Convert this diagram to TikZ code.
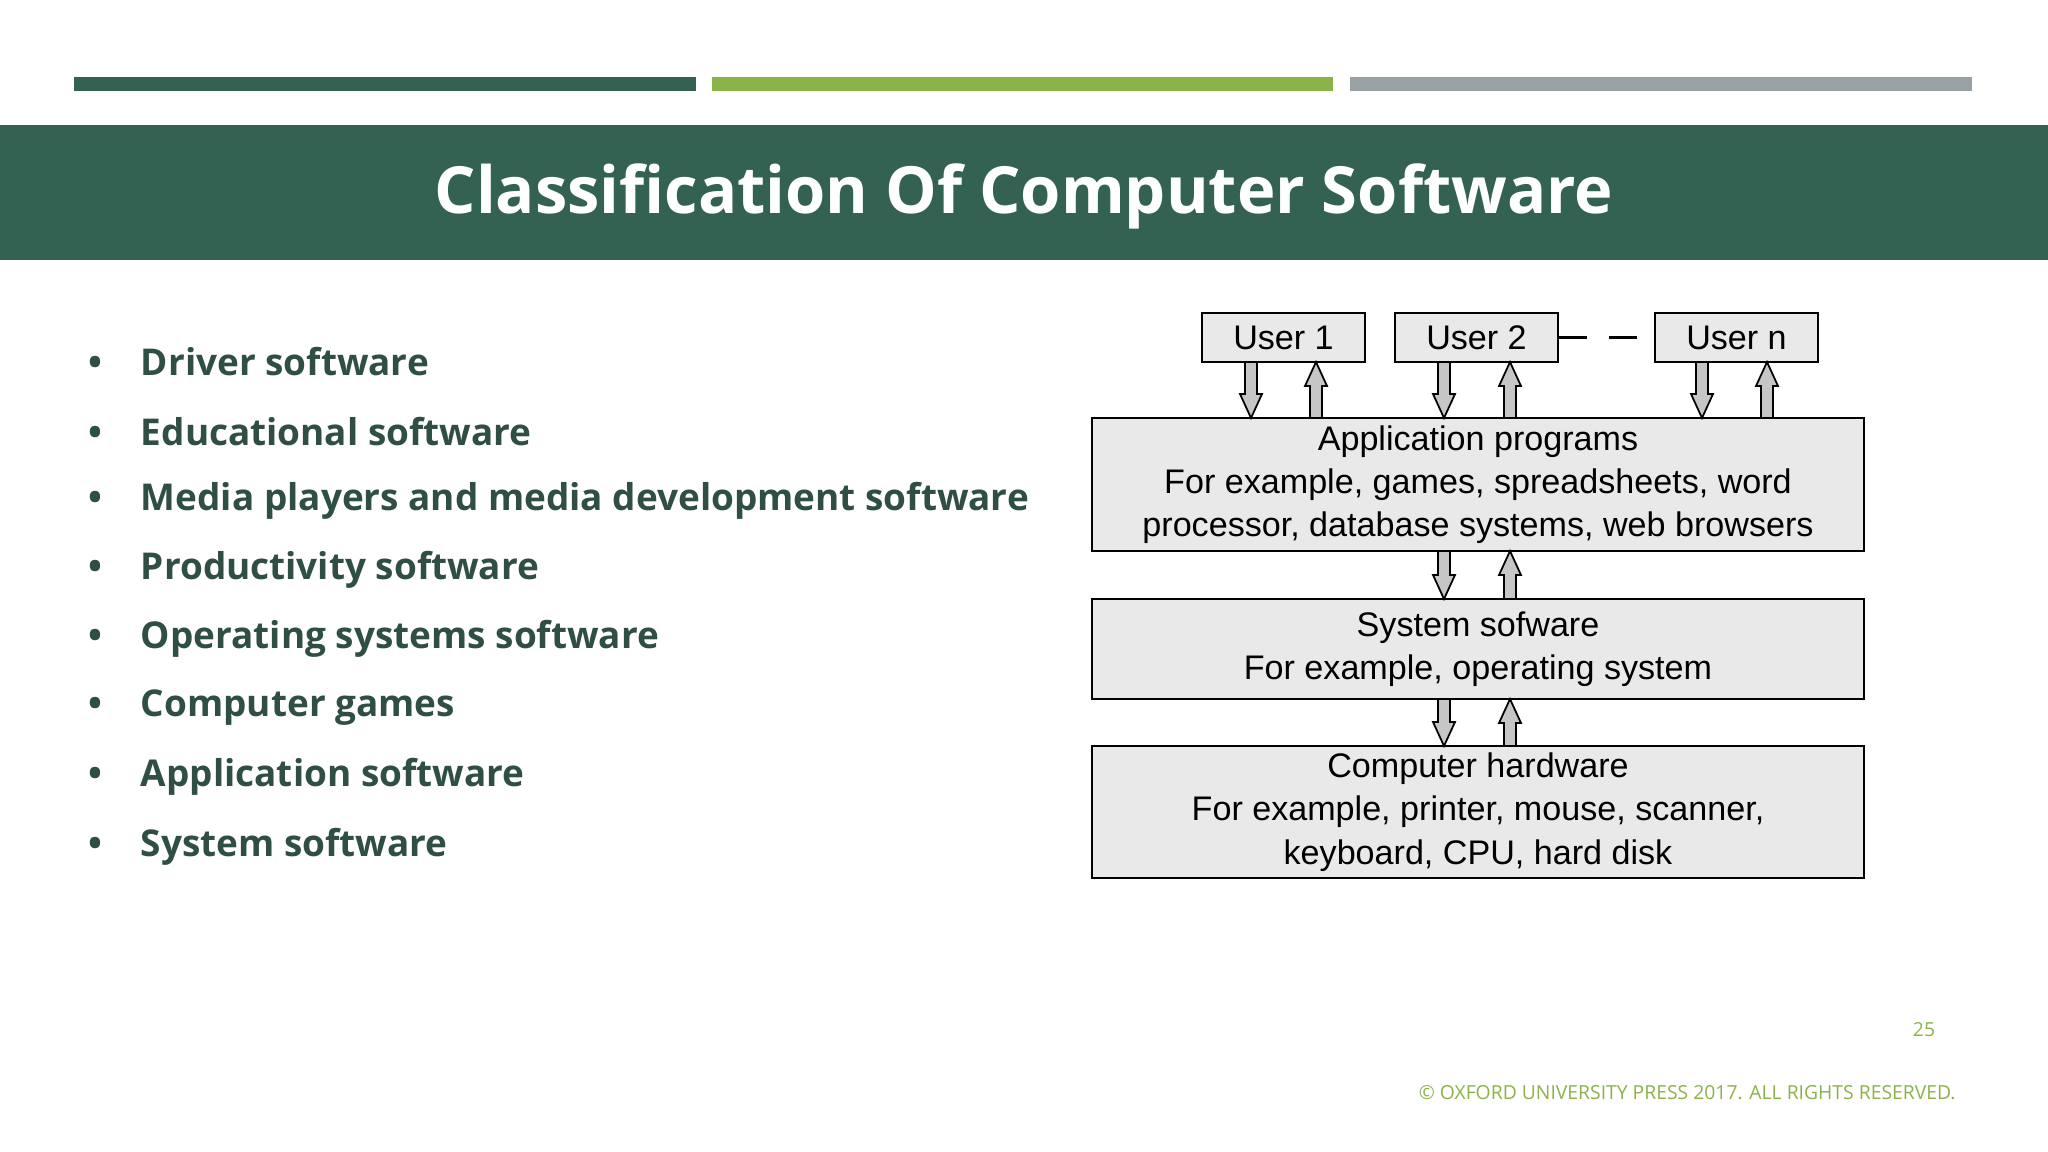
\documentclass[tikz,border=0pt]{standalone}
\usepackage{fontspec}
\setmainfont{Open Sans}
\newfontfamily\diag{Liberation Sans}
\definecolor{dgreen}{HTML}{336152}
\definecolor{lgreen}{HTML}{8AB44A}
\definecolor{gbar}{HTML}{98A2A5}
\definecolor{btext}{HTML}{2F4F45}
\definecolor{boxfill}{HTML}{E9E9E9}
\newcommand\garrow[3]{%
  \draw[fill=gray!45,line width=0.5pt] (#1-6,#2) -- (#1+6,#2) -- (#1+6,{#3-(sign(#3-#2))*24}) -- (#1+11,{#3-(sign(#3-#2))*24}) -- (#1,#3) -- (#1-11,{#3-(sign(#3-#2))*24}) -- (#1-6,{#3-(sign(#3-#2))*24}) -- cycle;}
\begin{document}
\begin{tikzpicture}[x=0.01cm,y=-0.01cm,
  bul/.style={anchor=west,text=btext,font=\bfseries\fontsize{10.5}{12}\selectfont},
  dbox/.style={draw,line width=0.7pt,fill=boxfill,font=\diag\fontsize{9.7}{12.3}\selectfont,align=center,inner sep=0pt}]
\useasboundingbox (0,0) rectangle (2048,1152);
\fill[white] (0,0) rectangle (2048,1152);
\fill[dgreen] (74,77) rectangle (696,91);
\fill[lgreen] (712,77) rectangle (1333,91);
\fill[gbar] (1350,77) rectangle (1972,91);
\fill[dgreen] (0,125) rectangle (2048,260);
\node[text=white,font=\bfseries\fontsize{18.5}{22}\selectfont] (title) at (1024,196) {Classification Of Computer Software};
\foreach \t [count=\i] in {Driver software,Educational software,Media players and media development software,Productivity software,Operating systems software,Computer games,Application software,System software}{
  \node[bul] (b\i) at (76,{362+69.2*(\i-1)}) {\textbullet\hspace{11pt}\t};
}
\node[dbox,minimum width=1.63cm,minimum height=0.49cm] (u1) at (1283.5,337.5) {User 1};
\node[dbox,minimum width=1.63cm,minimum height=0.49cm] (u2) at (1476.5,337.5) {User 2};
\node[dbox,minimum width=1.63cm,minimum height=0.49cm] (un) at (1736.5,337.5) {User n};
\draw[line width=0.7pt,dash pattern=on 8pt off 6pt] (u2.east) -- (un.west);
\node[dbox,minimum width=7.72cm,minimum height=1.33cm] (app) at (1478,484.5) {Application programs\\For example, games, spreadsheets, word\\processor, database systems, web browsers};
\node[dbox,minimum width=7.72cm,minimum height=1cm] (sys) at (1478,649) {System sofware\\For example, operating system};
\node[dbox,minimum width=7.72cm,minimum height=1.32cm] (hw) at (1478,812) {Computer hardware\\For example, printer, mouse, scanner,\\keyboard, CPU, hard disk};
\foreach \x in {1251,1444,1702}{\garrow{\x}{362}{418}}
\foreach \x in {1316,1510,1767}{\garrow{\x}{418}{362}}
\garrow{1444}{551}{599}\garrow{1510}{599}{551}
\garrow{1444}{699}{746}\garrow{1510}{746}{699}
\node[text=lgreen,font=\fontsize{5.5}{7}\selectfont] (pg) at (1924,1030) {25};
\node[anchor=east,text=lgreen,font=\fontsize{5.5}{7}\selectfont] (cr) at (1968,1093) {© OXFORD UNIVERSITY PRESS 2017. ALL RIGHTS RESERVED.};
\end{tikzpicture}
\end{document}
